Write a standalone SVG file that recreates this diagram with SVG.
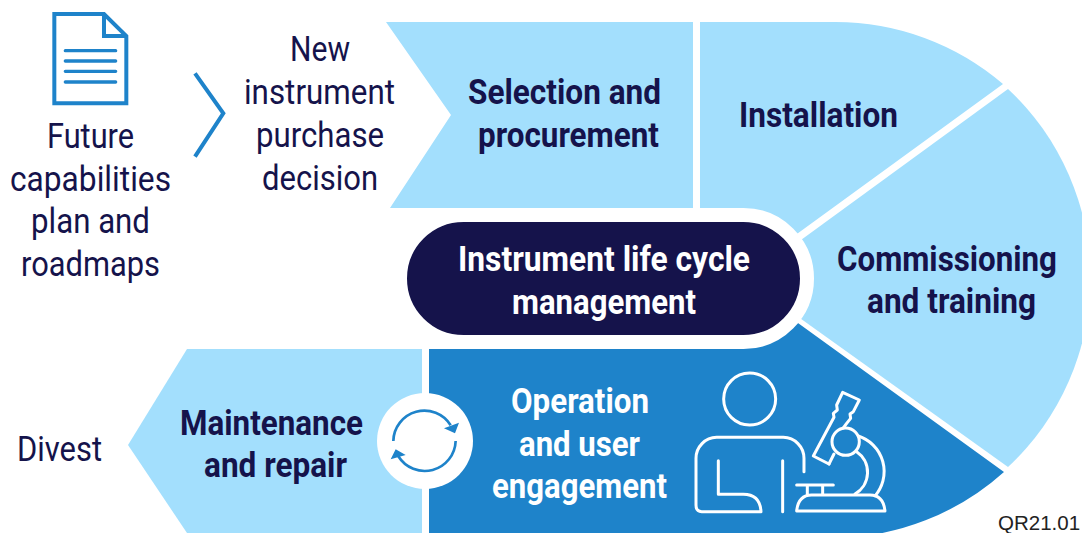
<svg xmlns="http://www.w3.org/2000/svg" width="1082" height="533" viewBox="0 0 1082 533">
<style>
text{font-family:Roboto,"Liberation Sans",sans-serif;font-size:35px;fill:#15134B}
.b{font-weight:700}
.w{fill:#fff}
.light{fill:#A3DFFD}
.mid{fill:#1E83CA}
.ic{fill:none;stroke:#1E83CA;stroke-width:12;stroke-linecap:butt;stroke-linejoin:miter}
.iw{fill:none;stroke:#fff;stroke-width:9;stroke-linecap:round;stroke-linejoin:round}
</style>
<rect width="1082" height="533" fill="#fff"/>
<g id="future-plan">
<g transform="scale(.3333)">
<path class="ic" d="M163 42H312L379 108V310H163Z"/>
<path class="ic" d="M312 42V108H379"/>
<path class="ic" style="stroke-width:10;stroke-linecap:round" d="M196 152H347M196 183H347M196 214H347M196 246H347"/>
</g>
<text x="47" y="148" textLength="87" lengthAdjust="spacingAndGlyphs">Future</text>
<text x="10" y="191" textLength="161" lengthAdjust="spacingAndGlyphs">capabilities</text>
<text x="31" y="233" textLength="119" lengthAdjust="spacingAndGlyphs">plan and</text>
<text x="21" y="276" textLength="139" lengthAdjust="spacingAndGlyphs">roadmaps</text>
</g>
<g id="connectors">
<path class="ic" transform="scale(.3333)" d="M585 220L670 340L585 470"/>
</g>
<g id="purchase-decision">
<text x="290" y="61" textLength="60" lengthAdjust="spacingAndGlyphs">New</text>
<text x="244" y="104" textLength="151" lengthAdjust="spacingAndGlyphs">instrument</text>
<text x="256" y="147" textLength="128" lengthAdjust="spacingAndGlyphs">purchase</text>
<text x="262" y="190" textLength="116" lengthAdjust="spacingAndGlyphs">decision</text>
</g>
<g id="selection">
<path class="light" d="M386 22H693V208H390L451 115Z"/>
<text class="b" x="468" y="104" textLength="193" lengthAdjust="spacingAndGlyphs">Selection and</text>
<text class="b" x="478" y="147" textLength="181" lengthAdjust="spacingAndGlyphs">procurement</text>
</g>
<g id="installation">
<path class="light" d="M700 22H835A258 258 0 0 1 1003 84L790 239L700 208Z"/>
<text class="b" x="739" y="127" textLength="159" lengthAdjust="spacingAndGlyphs">Installation</text>
</g>
<g id="commissioning">
<path class="light" d="M1008 89A258 258 0 0 1 1008 467L790 311V248Z"/>
<text class="b" x="837" y="271" textLength="220" lengthAdjust="spacingAndGlyphs">Commissioning</text>
<text class="b" x="867" y="313" textLength="169" lengthAdjust="spacingAndGlyphs">and training</text>
</g>
<g id="operation">
<path class="mid" d="M429 349H740V281L1004 472A258 258 0 0 1 835 538H429Z"/>
<text class="b w" x="511" y="413" textLength="138" lengthAdjust="spacingAndGlyphs">Operation</text>
<text class="b w" x="519" y="456" textLength="121" lengthAdjust="spacingAndGlyphs">and user</text>
<text class="b w" x="492" y="498" textLength="175" lengthAdjust="spacingAndGlyphs">engagement</text>
<g transform="translate(680 340) scale(.3333)">
<circle class="iw" cx="209" cy="177" r="78"/>
<path class="iw" d="M372 395V355A63 63 0 0 0 310 292H110A63 63 0 0 0 48 355V495Q48 515 65 515H243Q240 463 190 463H115V362M308 362V515"/>
<path class="iw" d="M447 372L400 348L462 232L460 220L472 210L470 195L488 157L538 180L520 215L510 222L512 235L500 250L490 264"/>
<path class="iw" d="M447 372L462 342"/>
<circle class="iw" cx="497" cy="305" r="41"/>
<path class="iw" d="M535 288A112 112 0 0 1 585 468M530 335A75 75 0 0 1 525 462"/>
<path class="iw" d="M350 435H460M382 435V464M428 435V464M350 513H615Q610 465 570 465H395Q355 465 350 513Z"/>
</g>
</g>
<g id="maintenance">
<path class="light" d="M187 349H422V533H187L128 445Z"/>
<text class="b" x="180" y="435" textLength="183" lengthAdjust="spacingAndGlyphs">Maintenance</text>
<text class="b" x="204" y="477" textLength="143" lengthAdjust="spacingAndGlyphs">and repair</text>
</g>
<g id="divest">
<text x="17" y="461" textLength="85" lengthAdjust="spacingAndGlyphs">Divest</text>
</g>
<g id="cycle-icon">
<circle cx="425" cy="441" r="48" fill="#fff"/>
<g transform="translate(360 340) scale(.3333)">
<path d="M100 303A93 93 0 0 1 272 256M287 303A93 93 0 0 1 115 349" fill="none" stroke="#1E83CA" stroke-width="8"/>
<path class="mid" d="M252 265L297 248L285 280ZM92 358L107 328L137 345Z"/>
</g>
</g>
<g id="life-cycle">
<rect x="400" y="215" width="407" height="127" rx="63.5" fill="#15134B" stroke="#fff" stroke-width="14"/>
<text class="b w" x="458" y="271" textLength="292" lengthAdjust="spacingAndGlyphs">Instrument life cycle</text>
<text class="b w" x="512" y="314" textLength="184" lengthAdjust="spacingAndGlyphs">management</text>
</g>
<text x="998" y="530" style="font-family:'Liberation Sans',Arial,sans-serif;font-size:20.5px;fill:#222">QR21.01</text>
</svg>
